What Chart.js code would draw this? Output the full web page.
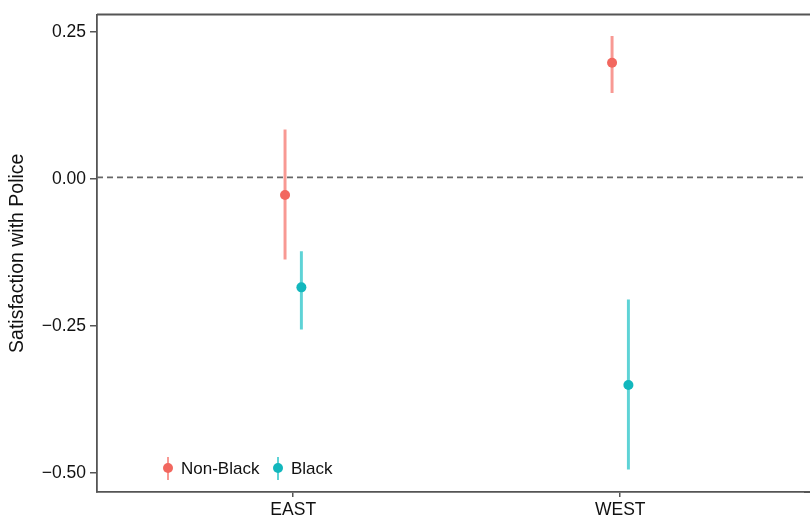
<!DOCTYPE html>
<html>
<head>
<meta charset="utf-8">
<script src="https://cdn.jsdelivr.net/npm/chart.js@4.4.1/dist/chart.umd.min.js"></script>
<style>
  html, body { margin: 0; padding: 0; background: #fff; }
  #wrap { width: 810px; height: 519px; position: relative; }
</style>
</head>
<body>
<div id="wrap"><canvas id="chart"></canvas></div>
<script>
// datos
const regions = ["EAST", "WEST"];
const regionPos = [1, 2];
const groups = ["Non-Black", "Black"];
const dodge = [-0.025, 0.025];

const nonBlackMean = [-0.027, 0.198];
const nonBlackLow  = [-0.136, 0.147];
const nonBlackHigh = [0.084, 0.243];

const blackMean = [-0.184, -0.350];
const blackLow  = [-0.255, -0.493];
const blackHigh = [-0.123, -0.205];

const yTicks = [-0.5, -0.25, 0, 0.25];
const refLine = 0.003;

const pointColors = ["#F2675F", "#12B7BD"];
const barColors = ["rgba(246,128,120,0.8)", "rgba(40,196,200,0.75)"];
const axisColor = "#555";
const FONT = "'Liberation Sans', Arial, sans-serif";

const means = [nonBlackMean, blackMean];
const lows = [nonBlackLow, blackLow];
const highs = [nonBlackHigh, blackHigh];

const X_MIN = 0.4, X_MAX = 2.565;

const datasets = [];
groups.forEach((g, i) => {
    datasets.push({
        type: "bar",
        label: g + " CI",
        data: regionPos.map((x, k) => ({ x: x + dodge[i], y: [lows[i][k], highs[i][k]] })),
        backgroundColor: barColors[i],
        barThickness: 2.3,
        grouped: false,
        order: 2
    });
});
groups.forEach((g, i) => {
    datasets.push({
        type: "scatter",
        label: g,
        data: regionPos.map((x, k) => ({ x: x + dodge[i], y: means[i][k] })),
        backgroundColor: pointColors[i],
        borderColor: pointColors[i],
        pointRadius: 5,
        borderWidth: 0,
        order: 0
    });
});
datasets.push({
    type: "line",
    label: "ref",
    data: [{ x: X_MIN, y: refLine }, { x: X_MAX, y: refLine }],
    borderColor: "#666",
    borderWidth: 1.8,
    borderDash: [6, 4],
    pointRadius: 0,
    order: 3
});

const framePlugin = {
    id: "frame",
    afterDraw(chart) {
        const { ctx, chartArea } = chart;
        ctx.save();
        // bordes superior e inferior hasta el borde del lienzo
        ctx.strokeStyle = axisColor;
        ctx.lineWidth = 1.8;
        ctx.beginPath();
        ctx.moveTo(chartArea.left, chartArea.top);
        ctx.lineTo(chart.width, chartArea.top);
        ctx.moveTo(chartArea.right - 1, chartArea.bottom);
        ctx.lineTo(chart.width, chartArea.bottom);
        ctx.stroke();

        // leyenda dentro del área
        ctx.font = "17px " + FONT;
        ctx.textBaseline = "middle";
        const ly = 468;
        const lx = [168, 278];
        groups.forEach((g, i) => {
            ctx.strokeStyle = barColors[i];
            ctx.lineWidth = 2;
            ctx.beginPath();
            ctx.moveTo(lx[i], ly - 11);
            ctx.lineTo(lx[i], ly + 12);
            ctx.stroke();
            ctx.fillStyle = pointColors[i];
            ctx.beginPath();
            ctx.arc(lx[i], ly, 5, 0, Math.PI * 2);
            ctx.fill();
            ctx.fillStyle = "#111";
            ctx.fillText(g, lx[i] + 13, ly + 1);
        });
        ctx.restore();
    }
};

const fmt = v => {
    const s = Math.abs(v).toFixed(2);
    return v < 0 ? "\u2212" + s : s;
};

new Chart(document.getElementById("chart"), {
    type: "scatter",
    data: { datasets: datasets },
    options: {
        responsive: true,
        maintainAspectRatio: false,
        animation: false,
        layout: { padding: { top: 10, right: 0, left: 0, bottom: 0 } },
        plugins: { legend: { display: false }, tooltip: { enabled: false } },
        scales: {
            x: {
                type: "linear",
                min: X_MIN,
                max: X_MAX,
                offset: false,
                afterBuildTicks: s => { s.ticks = regionPos.map(v => ({ value: v })); },
                afterFit: s => { s.height = 27; },
                ticks: {
                    callback: v => regions[regionPos.indexOf(v)] || "",
                    color: "#111",
                    font: { family: FONT, size: 17.5 },
                    padding: 3,
                    maxRotation: 0,
                    autoSkip: false
                },
                grid: { offset: false, drawOnChartArea: false, drawTicks: true, tickLength: 5, color: axisColor, lineWidth: 1.5 },
                border: { color: axisColor, width: 1.8 }
            },
            y: {
                min: -0.532,
                max: 0.28,
                afterBuildTicks: s => { s.ticks = yTicks.map(v => ({ value: v })); },
                afterFit: s => { s.width = 97; },
                ticks: {
                    callback: v => fmt(v),
                    color: "#111",
                    font: { family: FONT, size: 17.5 },
                    padding: 4
                },
                title: {
                    display: true,
                    text: "Satisfaction with Police",
                    color: "#111",
                    font: { family: FONT, size: 19.5 },
                    padding: { top: 6, bottom: 0 }
                },
                grid: { drawOnChartArea: false, drawTicks: true, tickLength: 7, color: axisColor, lineWidth: 1.5 },
                border: { color: axisColor, width: 1.8 }
            }
        }
    },
    plugins: [framePlugin]
});
</script>
</body>
</html>
